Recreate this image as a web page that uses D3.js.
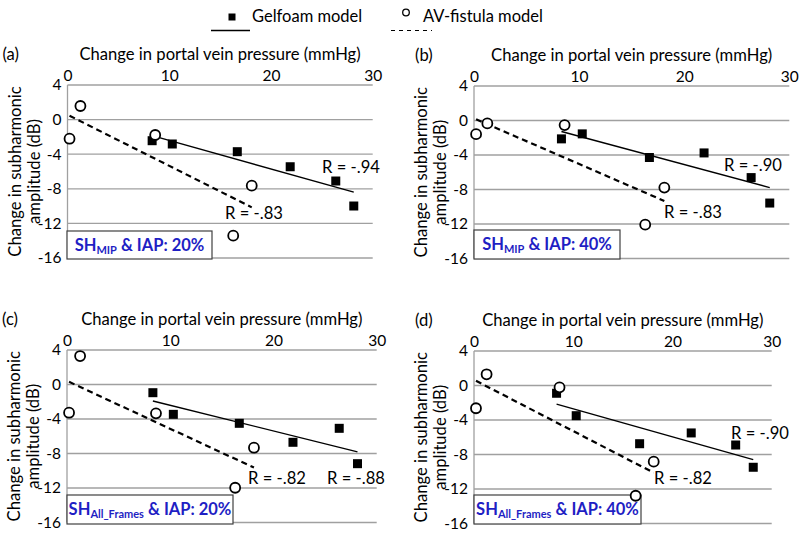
<!DOCTYPE html>
<html>
<head>
<meta charset="utf-8">
<script src="https://cdn.jsdelivr.net/npm/d3@7"></script>
<style>
  html, body { margin: 0; padding: 0; background: #fff; }
  svg { display: block; font-family: Lato, "Open Sans", sans-serif; }
</style>
</head>
<body>
<svg id="chart" width="800" height="534"></svg>
<script>
// ---- Data ----
const xTicks = [0, 10, 20, 30];
const yTicks = [4, 0, -4, -8, -12, -16];

// change in portal vein pressure (mmHg), same animals in every panel
const gelfoamX = [8.32, 10.3, 16.69, 21.89, 26.37, 28.14];
const fistulaX = [0.2, 1.27, 8.62, 18.11, 16.29];

// change in subharmonic amplitude (dB)
const gelfoamA = [-2.44, -2.82, -3.71, -5.45, -7.1, -9.99];
const fistulaA = [-2.21, 1.57, -1.78, -7.64, -13.42];
const gelfoamB = [-2.13, -1.55, -4.29, -3.76, -6.62, -9.57];
const fistulaB = [-1.58, -0.34, -0.53, -7.78, -12.08];
const gelfoamC = [-0.95, -3.46, -4.5, -6.7, -5.08, -9.18];
const fistulaC = [-3.27, 3.3, -3.34, -7.33, -11.97];
const gelfoamD = [-0.9, -3.5, -6.75, -5.5, -6.9, -9.48];
const fistulaD = [-2.64, 1.3, -0.21, -8.83, -12.78];

const panelLabels = ["(a)", "(b)", "(c)", "(d)"];
const rGelfoam = ["R = -.94", "R = -.90", "R = -.88", "R = -.90"];
const rFistula = ["R = -.83", "R = -.83", "R = -.82", "R = -.82"];
const boxMain = ["SH", "SH", "SH", "SH"];
const boxSub = ["MIP", "MIP", "All_Frames", "All_Frames"];
const boxRest = [" & IAP: 20%", " & IAP: 40%", " & IAP: 20%", " & IAP: 40%"];
const xTitle = "Change in portal vein pressure (mmHg)";
const yTitle1 = "Change in subharmonic";
const yTitle2 = "amplitude (dB)";
const legendNames = ["Gelfoam model", "AV-fistula model"];

const gelfoamY = [gelfoamA, gelfoamB, gelfoamC, gelfoamD];
const fistulaY = [fistulaA, fistulaB, fistulaC, fistulaD];

// ---- Layout (pixels) ----
const layout = [
  { left: 67.5, right: 372.7, top: 85,  bottom: 258,   box: [67, 231, 145, 28],  rG: [351, 167],   rF: [254, 213] },
  { left: 474,  right: 789.3, top: 86,  bottom: 258.5, box: [474, 230, 146, 29], rG: [753, 165],   rF: [693, 212] },
  { left: 67,   right: 376.7, top: 350, bottom: 522.5, box: [67, 495, 166, 29],  rG: [356, 478],   rF: [277, 478] },
  { left: 474,  right: 771.7, top: 351, bottom: 523.5, box: [474, 495, 167, 29], rG: [760, 433],   rF: [683, 478] }
];

const svg = d3.select("#chart");
const GRID = "#a0a0a0";
const TICK_FONT = 15.5;
const TITLE_FONT = 16.6;
const BLUE = "#1f1fc4";

function regression(xs, ys) {
  const mx = d3.mean(xs), my = d3.mean(ys);
  let sxy = 0, sxx = 0;
  xs.forEach((x, i) => { sxy += (x - mx) * (ys[i] - my); sxx += (x - mx) * (x - mx); });
  const b = sxy / sxx, a = my - b * mx;
  const [x0, x1] = d3.extent(xs);
  return [[x0, a + b * x0], [x1, a + b * x1]];
}

layout.forEach((L, p) => {
  const x = d3.scaleLinear().domain([0, 30]).range([L.left, L.right]);
  const y = d3.scaleLinear().domain([-16, 4]).range([L.bottom, L.top]);
  const g = svg.append("g");

  // gridlines
  g.append("g").selectAll("line").data(yTicks).join("line")
    .attr("x1", L.left).attr("x2", L.right)
    .attr("y1", d => y(d)).attr("y2", d => y(d))
    .attr("stroke", GRID).attr("stroke-width", 1.3);
  // left axis line
  g.append("line").attr("x1", L.left).attr("x2", L.left)
    .attr("y1", L.top).attr("y2", L.bottom)
    .attr("stroke", GRID).attr("stroke-width", 1.3);

  // x axis (top)
  const xa = g.append("g").attr("transform", `translate(0,${L.top})`)
    .call(d3.axisTop(x).tickValues(xTicks).tickSize(0).tickPadding(4).tickFormat(d => String(d)));
  xa.select(".domain").remove();
  xa.selectAll("text").attr("font-size", TICK_FONT).attr("font-family", "Lato, sans-serif").attr("fill", "#000");

  // y axis (left)
  const ya = g.append("g").attr("transform", `translate(${L.left},0)`)
    .call(d3.axisLeft(y).tickValues(yTicks).tickSize(0).tickPadding(6).tickFormat(d => String(d)));
  ya.select(".domain").remove();
  ya.selectAll("text").attr("font-size", TICK_FONT).attr("font-family", "Lato, sans-serif").attr("fill", "#000");

  // titles
  const cx = (L.left + L.right) / 2;
  g.append("text").attr("x", cx).attr("y", L.top - 25).attr("text-anchor", "middle")
    .attr("font-size", TITLE_FONT).text(xTitle);
  g.append("text").attr("x", L.left - 65 + (p % 2 ? 6 : 0)).attr("y", L.top - 25)
    .attr("font-size", TITLE_FONT).text(panelLabels[p]);

  const cy = (L.top + L.bottom) / 2;
  g.append("text").attr("transform", `translate(${L.left - 47},${cy}) rotate(-90)`)
    .attr("text-anchor", "middle").attr("font-size", TITLE_FONT).text(yTitle1);
  g.append("text").attr("transform", `translate(${L.left - 28},${cy}) rotate(-90)`)
    .attr("text-anchor", "middle").attr("font-size", TITLE_FONT).text(yTitle2);

  // text box (drawn under the markers)
  const [bx, by, bw, bh] = L.box;
  g.append("rect").attr("x", bx).attr("y", by).attr("width", bw).attr("height", bh)
    .attr("fill", "#fff").attr("stroke", "#404040").attr("stroke-width", 1.2);
  const t = g.append("text").attr("x", bx + bw / 2).attr("y", by + bh / 2 + 5.5)
    .attr("text-anchor", "middle").attr("font-weight", "bold").attr("fill", BLUE)
    .attr("font-size", 16.5);
  t.append("tspan").text(boxMain[p]);
  t.append("tspan").attr("font-size", 11).attr("dy", 3).text(boxSub[p]);
  t.append("tspan").attr("dy", -3).text(boxRest[p]);

  // trend lines
  const line = d3.line().x(d => x(d[0])).y(d => y(d[1]));
  g.append("path").attr("d", line(regression(fistulaX, fistulaY[p])))
    .attr("fill", "none").attr("stroke", "#000").attr("stroke-width", 2.2)
    .attr("stroke-dasharray", "6,4");
  g.append("path").attr("d", line(regression(gelfoamX, gelfoamY[p])))
    .attr("fill", "none").attr("stroke", "#000").attr("stroke-width", 1.4);

  // markers
  g.append("g").selectAll("rect").data(gelfoamX.map((v, i) => [v, gelfoamY[p][i]])).join("rect")
    .attr("x", d => x(d[0]) - 4.5).attr("y", d => y(d[1]) - 4.5)
    .attr("width", 9).attr("height", 9).attr("fill", "#000");
  g.append("g").selectAll("circle").data(fistulaX.map((v, i) => [v, fistulaY[p][i]])).join("circle")
    .attr("cx", d => x(d[0])).attr("cy", d => y(d[1])).attr("r", 5)
    .attr("fill", "#fff").attr("stroke", "#000").attr("stroke-width", 1.8);

  // R labels
  g.append("text").attr("x", L.rG[0]).attr("y", L.rG[1] + 5.5).attr("text-anchor", "middle")
    .attr("font-size", TITLE_FONT).text(rGelfoam[p]);
  g.append("text").attr("x", L.rF[0]).attr("y", L.rF[1] + 5.5).attr("text-anchor", "middle")
    .attr("font-size", TITLE_FONT).text(rFistula[p]);
});

// legend
const lg = svg.append("g");
lg.append("rect").attr("x", 228.5).attr("y", 13.5).attr("width", 7).attr("height", 7).attr("fill", "#000");
lg.append("text").attr("x", 252).attr("y", 22).attr("font-size", 16.5).text(legendNames[0]);
lg.append("line").attr("x1", 211).attr("x2", 250).attr("y1", 30.5).attr("y2", 30.5)
  .attr("stroke", "#000").attr("stroke-width", 1.3);
lg.append("circle").attr("cx", 406).attr("cy", 12.5).attr("r", 3.3)
  .attr("fill", "#fff").attr("stroke", "#000").attr("stroke-width", 1.3);
lg.append("text").attr("x", 423).attr("y", 22).attr("font-size", 16.5).text(legendNames[1]);
lg.append("line").attr("x1", 391).attr("x2", 432).attr("y1", 30.5).attr("y2", 30.5)
  .attr("stroke", "#000").attr("stroke-width", 1.1).attr("stroke-dasharray", "4,4");
</script>
</body>
</html>
